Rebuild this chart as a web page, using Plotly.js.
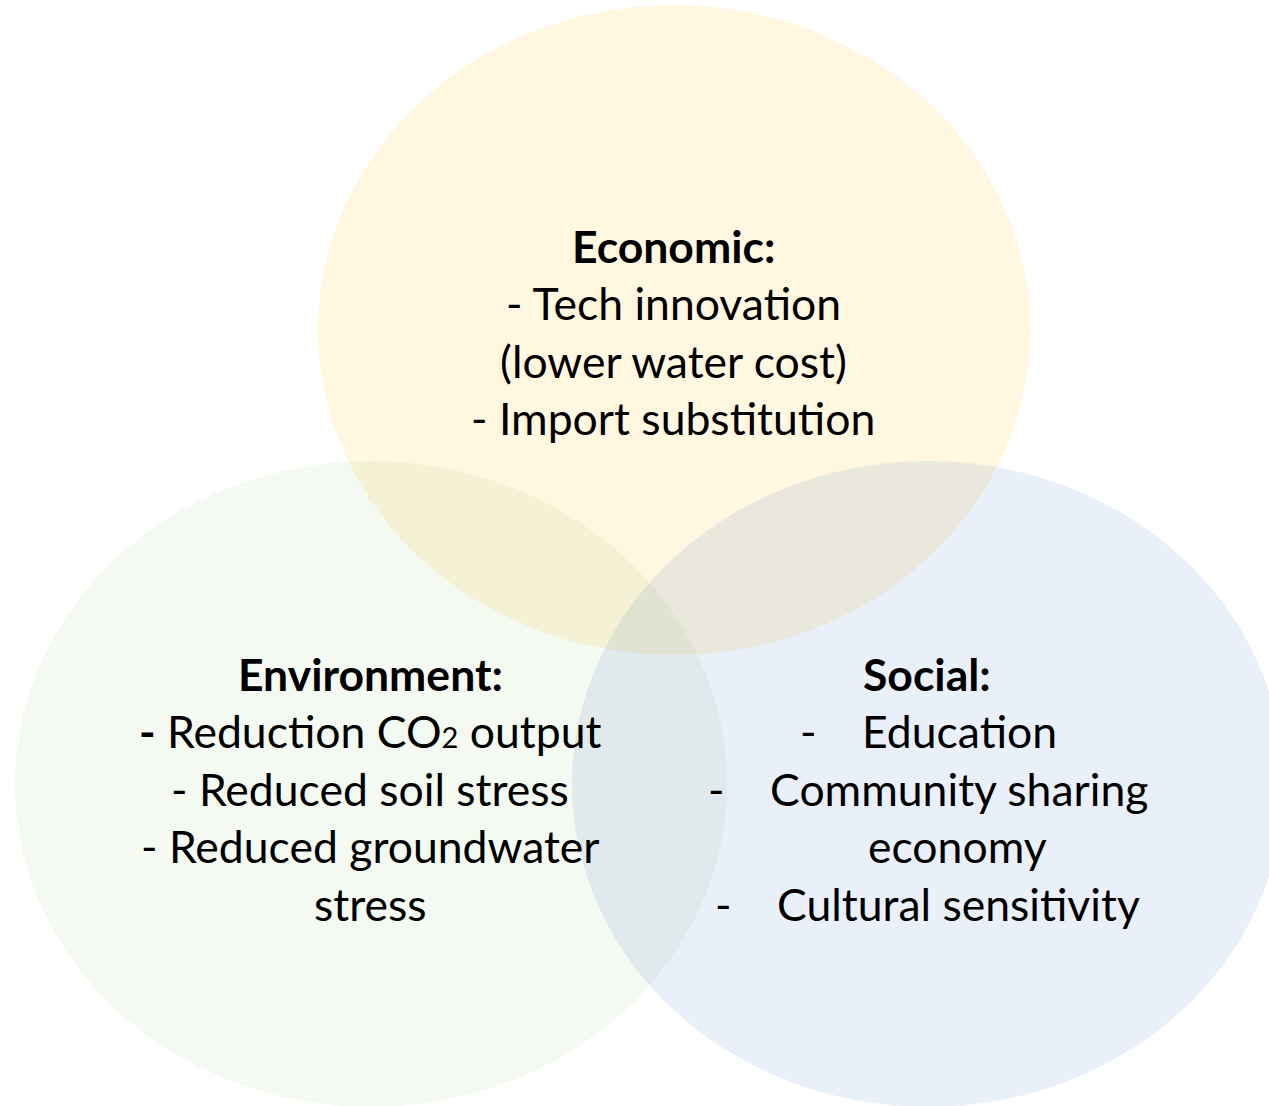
<!DOCTYPE html>
<html>
<head>
<meta charset="utf-8">
<script src="https://cdn.plot.ly/plotly-3.0.1.min.js"></script>
<style>html,body{margin:0;padding:0;background:#fff;}#chart{width:1269px;height:1106px;}</style>
</head>
<body>
<div id="chart"></div>
<script>
// ---- data ----
const groups = ['Economic', 'Environment', 'Social'];
const headings = ['Economic:', 'Environment:', 'Social:'];
const economicItems = ['- Tech innovation', '(lower water cost)', '- Import substitution'];
const environmentItems = ['<b>-</b> Reduction CO<span style="font-size:29px">2</span> output', '- Reduced soil stress', '- Reduced groundwater', 'stress'];
const socialItems = ['-\u00a0\u00a0\u00a0\u00a0Education', '-\u00a0\u00a0\u00a0\u00a0Community sharing', 'economy', '-\u00a0\u00a0\u00a0\u00a0Cultural sensitivity'];

// ---- layout / styles ----
const W = 1269, H = 1106;
const FONT = 'Lato, "Open Sans", sans-serif';
const FS = 44.5;
const LINE = 57.5;
const circles = {
  Economic:    {cx: 674, cy: 330, rx: 356, ry: 325, fill: 'rgba(255,192,0,0.12)'},
  Environment: {cx: 371, cy: 784, rx: 356, ry: 323, fill: 'rgba(112,173,71,0.08)'},
  Social:      {cx: 928, cy: 784, rx: 356, ry: 323, fill: 'rgba(68,114,196,0.11)'}
};
const blocks = {
  Economic:    {x: 673, y: 245, items: economicItems, xs: [673, 673, 673]},
  Environment: {x: 370, y: 673, items: environmentItems, xs: [370, 370, 370, 370]},
  Social:      {x: 927, y: 673, items: socialItems, xs: [928, 928, 957, 927]}
};

const shapes = groups.map(g => {
  const c = circles[g];
  return {type: 'circle', xref: 'x', yref: 'y', layer: 'below',
    x0: c.cx - c.rx, x1: c.cx + c.rx, y0: c.cy - c.ry, y1: c.cy + c.ry,
    fillcolor: c.fill, line: {width: 0}};
});

const annotations = [];
groups.forEach((g, gi) => {
  const b = blocks[g];
  annotations.push({x: b.x, y: b.y, xref: 'x', yref: 'y', showarrow: false,
    xanchor: 'center', yanchor: 'middle', text: '<b>' + headings[gi] + '</b>',
    font: {family: FONT, size: FS, color: '#000'}});
  b.items.forEach((t, i) => {
    annotations.push({x: b.xs[i], y: b.y + (i + 1) * LINE, xref: 'x', yref: 'y', showarrow: false,
      xanchor: 'center', yanchor: 'middle', text: t,
      font: {family: FONT, size: FS, color: '#000'}});
  });
});

const layout = {
  width: W, height: H,
  margin: {l: 0, r: 0, t: 0, b: 0, pad: 0},
  paper_bgcolor: '#ffffff', plot_bgcolor: '#ffffff',
  xaxis: {range: [0, W], visible: false, fixedrange: true},
  yaxis: {range: [H, 0], visible: false, fixedrange: true},
  showlegend: false,
  shapes: shapes,
  annotations: annotations
};

Plotly.newPlot('chart', [{x: [], y: [], type: 'scatter', hoverinfo: 'skip'}], layout, {displayModeBar: false, staticPlot: true});
</script>
</body>
</html>
